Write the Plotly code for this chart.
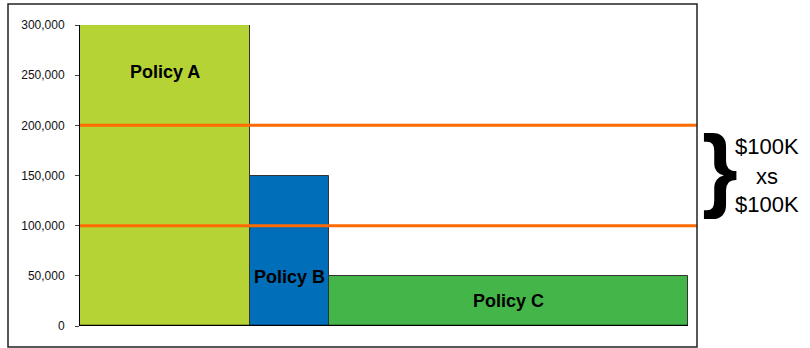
import plotly.graph_objects as go

policies = ["Policy A", "Policy B", "Policy C"]
limits = [300000, 150000, 50000]
widths = [170, 79, 359]
colors = ["#B5D334", "#006EB8", "#44B549"]
layer_lines = [100000, 200000]
y_ticks = [0, 50000, 100000, 150000, 200000, 250000, 300000]
y_tick_text = ["0", "50,000", "100,000", "150,000", "200,000", "250,000", "300,000"]
label_y = [253000, 49000, 25000]
brace_text = ["$100K", "xs", "$100K"]

starts = []
acc = 0
for w in widths:
    starts.append(acc)
    acc += w
centers = [s + w / 2 for s, w in zip(starts, widths)]

fig = go.Figure()
fig.add_trace(go.Bar(
    x=centers, y=limits, width=widths,
    marker=dict(color=colors, line=dict(color="#333333", width=1)),
    showlegend=False, hoverinfo="skip",
))

for name, cx, ly in zip(policies, centers, label_y):
    fig.add_annotation(x=cx, y=ly, text="<b>%s</b>" % name, showarrow=False,
                       font=dict(family="Arial, Liberation Sans", size=18, color="black"))

for v in layer_lines:
    fig.add_shape(type="line", xref="paper", yref="y", x0=0, x1=1, y0=v, y1=v,
                  line=dict(color="#FF6A00", width=3))

# baseline under the bars
fig.add_shape(type="line", xref="x", yref="y", x0=0, x1=acc, y0=0, y1=0,
              line=dict(color="black", width=2.5))

# outer border
fig.add_shape(type="rect", xref="paper", yref="paper",
              x0=-72 / 617, x1=1, y0=-21 / 301, y1=322 / 301,
              line=dict(color="#222222", width=1.5), fillcolor="rgba(0,0,0,0)")

fig.add_annotation(xref="paper", yref="y", x=(720 - 80) / 617, y=150000, yshift=8,
                   text="<b>}</b>",
                   showarrow=False, xanchor="center", yanchor="middle",
                   font=dict(family="Arial, Liberation Sans", size=92, color="black"))
for i, t in enumerate(brace_text):
    fig.add_annotation(xref="paper", yref="paper", x=(767 - 80) / 617,
                       y=(326 - [146, 176, 204][i]) / 301, text=t, showarrow=False,
                       xanchor="center", yanchor="middle",
                       font=dict(family="Arial, Liberation Sans", size=22, color="black"))

fig.update_xaxes(range=[0, 617], showticklabels=False, ticks="", showgrid=False,
                 zeroline=False, showline=False)
fig.update_yaxes(range=[0, 300000], tickvals=y_ticks, ticktext=y_tick_text,
                 showgrid=False, zeroline=False, showline=True, linecolor="black",
                 linewidth=1, ticks="outside", ticklen=4, tickcolor="#444444",
                 ticklabelstandoff=8,
                 tickfont=dict(family="Arial, Liberation Sans", size=12, color="#111111"))

fig.update_layout(width=810, height=348, margin=dict(l=80, r=113, t=25, b=22),
                  plot_bgcolor="white", paper_bgcolor="white", bargap=0)

fig.write_html("out.html")
